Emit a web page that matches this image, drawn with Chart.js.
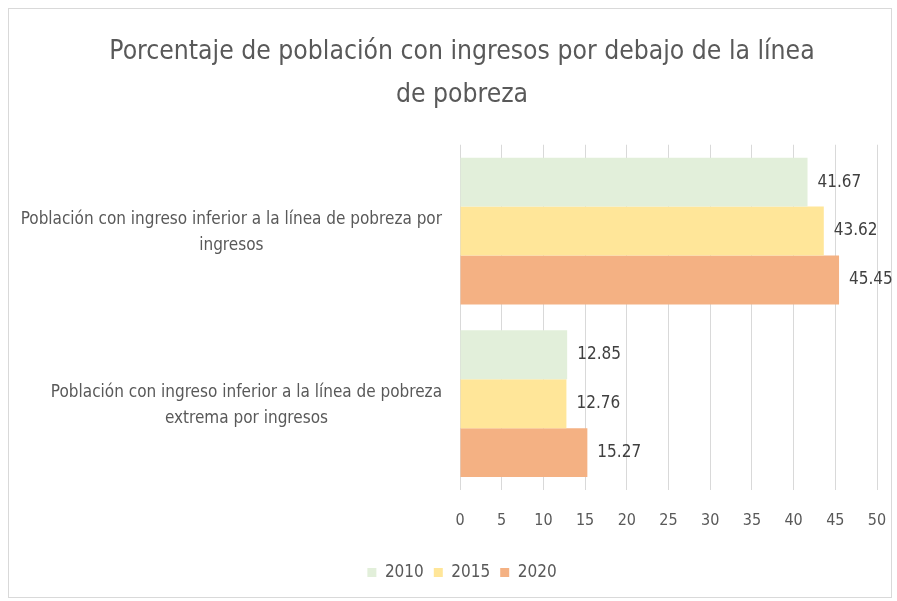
<!DOCTYPE html>
<html lang="es">
<head>
  <meta charset="UTF-8">
  <title>Porcentaje de población con ingresos por debajo de la línea de pobreza</title>
  <script src="https://cdn.jsdelivr.net/npm/chart.js"></script>
  <style>
    html, body { margin: 0; padding: 0; background: #fff; }
    #wrap { width: 897px; height: 601px; position: relative; }
  </style>
</head>
<body>
  <div id="wrap"><canvas id="myChart"></canvas></div>
  <script>
    // Data
    const categories = [
      ['Población con ingreso inferior a la línea de pobreza por', 'ingresos'],
      ['Población con ingreso inferior a la línea de pobreza', 'extrema por ingresos']
    ];
    const years = ['2010', '2015', '2020'];
    const values2010 = [41.67, 12.85];
    const values2015 = [43.62, 12.76];
    const values2020 = [45.45, 15.27];
    const colors = ['#e2efda', '#ffe699', '#f4b183'];

    const FONT = '"Liberation Sans Narrow", "DejaVu Sans Condensed", "Open Sans", sans-serif';
    const TEXT = '#595959';

    // Frame around the chart, like the Excel chart area border
    const framePlugin = {
      id: 'frame',
      beforeDraw(chart) {
        const ctx = chart.ctx;
        ctx.save();
        ctx.strokeStyle = '#d9d9d9';
        ctx.lineWidth = 1;
        ctx.strokeRect(8.5, 8.5, chart.width - 14, chart.height - 12);
        ctx.restore();
      }
    };

    // Category labels: block right-aligned to the axis, lines centred inside it
    const yLabelPlugin = {
      id: 'yLabels',
      afterDraw(chart) {
        const ctx = chart.ctx;
        const y = chart.scales.y;
        ctx.save();
        ctx.font = '17px ' + FONT;
        ctx.fillStyle = TEXT;
        ctx.textAlign = 'center';
        ctx.textBaseline = 'middle';
        const lh = 26;
        categories.forEach((lines, i) => {
          const cy = y.getPixelForTick(i) + 2;
          const w = Math.max(...lines.map(l => ctx.measureText(l).width));
          const cx = y.right - 18 - w / 2;
          lines.forEach((l, j) => {
            ctx.fillText(l, cx, cy + (j - (lines.length - 1) / 2) * lh);
          });
        });
        ctx.restore();
      }
    };

    // Value labels at the end of each bar
    const valueLabelPlugin = {
      id: 'valueLabels',
      afterDatasetsDraw(chart) {
        const ctx = chart.ctx;
        ctx.save();
        ctx.font = '17px ' + FONT;
        ctx.fillStyle = '#404040';
        ctx.textAlign = 'left';
        ctx.textBaseline = 'middle';
        chart.data.datasets.forEach((ds, di) => {
          chart.getDatasetMeta(di).data.forEach((bar, i) => {
            ctx.fillText(ds.data[i].toFixed(2), bar.x + 10, bar.y);
          });
        });
        ctx.restore();
      }
    };

    const datasets = [values2010, values2015, values2020].map((vals, i) => ({
      label: years[i],
      data: vals,
      backgroundColor: colors[i],
      borderWidth: 0,
      barPercentage: 1.0,
      categoryPercentage: 0.85
    }));

    const ctx = document.getElementById('myChart').getContext('2d');
    const myChart = new Chart(ctx, {
      type: 'bar',
      data: { labels: categories.map(c => c.join(' ')), datasets: datasets },
      options: {
        indexAxis: 'y',
        responsive: true,
        maintainAspectRatio: false,
        animation: false,
        layout: { padding: { left: 37, right: 10, top: 0, bottom: 10 } },
        plugins: {
          title: {
            display: true,
            text: ['Porcentaje de población con ingresos por debajo de la línea', 'de pobreza'],
            color: TEXT,
            font: { family: FONT, size: 26.3, weight: 'normal', lineHeight: 1.63 },
            padding: { top: 31, bottom: 28 }
          },
          legend: {
            position: 'bottom',
            labels: {
              color: TEXT,
              font: { family: FONT, size: 17 },
              boxWidth: 9,
              boxHeight: 9,
              padding: 10
            }
          },
          tooltip: { enabled: false }
        },
        scales: {
          x: {
            min: 0,
            max: 50,
            ticks: { stepSize: 5, color: TEXT, font: { family: FONT, size: 16 }, padding: 21 },
            grid: { color: '#d9d9d9', drawTicks: false },
            border: { display: false },
            afterFit(scale) {
              scale.height = 64;
              scale.paddingRight = 20;
              scale.paddingLeft = 0;
            }
          },
          y: {
            ticks: { display: false },
            grid: { display: false },
            border: { display: false },
            afterFit(scale) { scale.width = 423; }
          }
        }
      },
      plugins: [framePlugin, yLabelPlugin, valueLabelPlugin]
    });
  </script>
</body>
</html>
